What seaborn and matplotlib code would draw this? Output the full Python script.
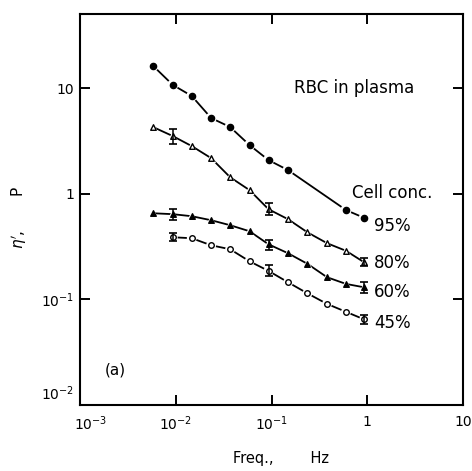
import numpy as np
import pandas as pd
import matplotlib
matplotlib.use("Agg")
import matplotlib.pyplot as plt
from matplotlib.ticker import NullLocator, FixedLocator, FixedFormatter
from matplotlib.transforms import ScaledTranslation
import seaborn as sns

# Oscillation frequency (Hz)
freq = [0.0058, 0.0093, 0.0147, 0.0234, 0.037, 0.059, 0.093, 0.149, 0.237, 0.38, 0.60, 0.93]

# Dynamic viscosity eta' (P) of red cells in plasma, by cell concentration
eta_95 = [16.2, 10.7, 8.4, 5.2, 4.27, 2.88, 2.08, 1.67, np.nan, np.nan, 0.70, 0.59]
eta_80 = [4.27, 3.51, 2.82, 2.17, 1.43, 1.08, 0.713, 0.573, 0.431, 0.34, 0.288, 0.224]
eta_60 = [0.653, 0.64, 0.612, 0.561, 0.503, 0.441, 0.332, 0.273, 0.217, 0.162, 0.140, 0.130]
eta_45 = [np.nan, 0.387, 0.379, 0.325, 0.298, 0.229, 0.186, 0.145, 0.114, 0.0906, 0.0762, 0.0646]

# Error bars (low, high) at selected frequencies
err_idx = [1, 6, 11]
err_80 = [(2.94, 4.08), (0.625, 0.81), (0.206, 0.245)]
err_60 = [(0.561, 0.713), (0.291, 0.362), (0.116, 0.145)]
err_45 = [(0.355, 0.423), (0.165, 0.210), (0.058, 0.0705)]

conc_labels = ["95%", "80%", "60%", "45%"]

x_ticks = [1e-3, 1e-2, 1e-1, 1, 10]
x_ticklabels = [r"$10^{-3}$", r"$10^{-2}$", r"$10^{-1}$", "1", "10"]
y_ticks = [1e-2, 1e-1, 1, 10]
y_ticklabels = [r"$10^{-2}$", r"$10^{-1}$", "1", "10"]

series = {"95%": eta_95, "80%": eta_80, "60%": eta_60, "45%": eta_45}
errors = {"80%": err_80, "60%": err_60, "45%": err_45}
markers = {"95%": ("o", "black", 20), "80%": ("^", "white", 16),
           "60%": ("^", "black", 16), "45%": ("o", "white", 16)}

df = pd.concat([pd.DataFrame({"freq": freq, "eta": v, "conc": k}) for k, v in series.items()])
df = df.dropna()

sns.set_theme(style="ticks")
plt.rcParams["font.family"] = ["DejaVu Sans"]
plt.rcParams["mathtext.fontset"] = "dejavusans"

fig = plt.figure(figsize=(4.72, 4.71), dpi=100)
ax = fig.add_axes([0.1695, 0.140, 0.8115, 0.830])

# Connecting curves
sns.lineplot(data=df, x="freq", y="eta", hue="conc", palette=["black"] * 4,
             linewidth=1.3, legend=False, ax=ax, zorder=2, sort=True)

for k in conc_labels:
    sub = df[df["conc"] == k]
    m, fc, s = markers[k]
    # white halo leaves a small gap in the curve around each marker
    sns.scatterplot(data=sub, x="freq", y="eta", marker=m, s=s * 3.2, color="white",
                    edgecolor="none", ax=ax, zorder=3, legend=False)
    sns.scatterplot(data=sub, x="freq", y="eta", marker=m, s=s, color=fc,
                    edgecolor="black", linewidth=1.0, ax=ax, zorder=4, legend=False)

for k, errs in errors.items():
    xs = [freq[i] for i in err_idx]
    ys = [series[k][i] for i in err_idx]
    lo = [y - e[0] for y, e in zip(ys, errs)]
    hi = [e[1] - y for y, e in zip(ys, errs)]
    ax.errorbar(xs, ys, yerr=[lo, hi], fmt="none", ecolor="black",
                elinewidth=1.1, capsize=3, capthick=1.2, zorder=5)

ax.set_xscale("log")
ax.set_yscale("log")
ax.set_xlim(1e-3, 10)
ax.set_ylim(1e-2, 50)

ax.xaxis.set_major_locator(FixedLocator(x_ticks))
ax.xaxis.set_major_formatter(FixedFormatter(x_ticklabels))
ax.yaxis.set_major_locator(FixedLocator(y_ticks))
ax.yaxis.set_major_formatter(FixedFormatter(y_ticklabels))
ax.xaxis.set_minor_locator(NullLocator())
ax.yaxis.set_minor_locator(NullLocator())

ax.tick_params(axis="both", which="major", direction="in", length=7.5, width=1.4,
               top=True, right=True, labelsize=10, colors="black")
ax.tick_params(axis="x", pad=7)
ax.tick_params(axis="y", pad=4)

for sp in ax.spines.values():
    sp.set_linewidth(1.5)
    sp.set_color("black")

fig.canvas.draw()
# nudge the corner tick labels away from the axis corner
xl = ax.get_xticklabels()
xl[0].set_transform(xl[0].get_transform() + ScaledTranslation(8 / 72, 0, fig.dpi_scale_trans))
yl = ax.get_yticklabels()
yl[0].set_transform(yl[0].get_transform() + ScaledTranslation(0, 9 / 72, fig.dpi_scale_trans))

ax.set_xlabel("Freq.,        Hz", fontsize=10.5, labelpad=13, color="black")
ax.set_ylabel(r"$\eta'$,       P", fontsize=11, labelpad=9, color="black")
ax.xaxis.label.set_x(0.525)
ax.yaxis.label.set_y(0.48)

txt = dict(transform=ax.transAxes, color="black")
ax.text(0.715, 0.811, "RBC in plasma", ha="center", va="center", fontsize=12, **txt)
ax.text(0.815, 0.542, "Cell conc.", ha="center", va="center", fontsize=12, **txt)
label_y = {"95%": 0.458, "80%": 0.363, "60%": 0.289, "45%": 0.210}
for k in conc_labels:
    ax.text(0.768, label_y[k], k, ha="left", va="center", fontsize=12, **txt)
ax.text(0.091, 0.0895, "(a)", ha="center", va="center", fontsize=11, **txt)

fig.savefig("out.png", dpi=100)
